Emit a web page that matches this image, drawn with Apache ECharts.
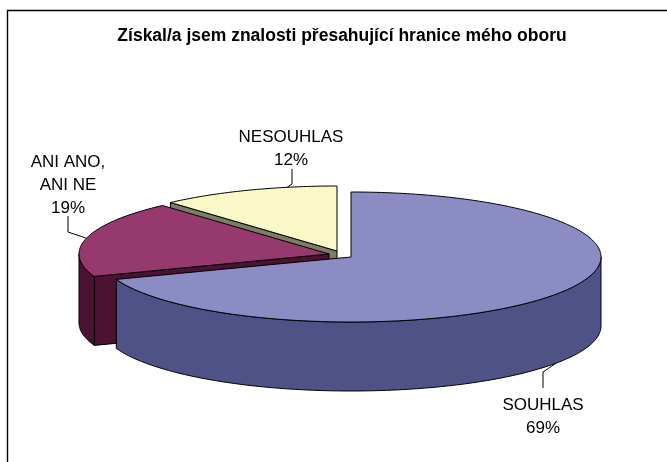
<!DOCTYPE html>
<html>

<head>
    <meta charset="utf-8">
    <title></title>
    <style>
        html, body { margin: 0; padding: 0; background: #fff; }
    </style>
</head>

<body>
    <div id="main" style="width: 667px;height:462px;"></div>
    <script src="https://cdn.jsdelivr.net/npm/echarts@6/dist/echarts.min.js" charset="utf-8"></script>
    <script>
    var titleText = 'Získal/a jsem znalosti přesahující hranice mého oboru';
    var categories = ['SOUHLAS', 'ANI ANO,\nANI NE', 'NESOUHLAS'];
    var values = [69.4, 19.0, 11.6];

    // colours per slice: top face, wall
    var topColors = ['#8a8cc3', '#96396e', '#fbf8c8'];
    var wallColors = ['#4f5287', '#4b1232', '#7d7c64'];
    // the pie is drawn as a flat ellipse, each slice pulled off on its own
    var centers = [[351, 257], [329, 254], [337, 251]];
    var radiusX = 250, radiusY = 65, depth = 69;
    // where the label text sits and how its leader runs
    var labelPos = [[543, 417], [68, 185], [291, 149]];
    var leaderElbow = [[543, 372], [68, 232], [292, 184]];
    var leaderStart = [[543, 388], [68, 216], [292, 169]];
    var leaderAngle = [null, null, 348.5];

    var total = values.reduce(function(a, b) { return a + b; }, 0);

    function rim(c, deg, dy) {
        var r = deg * Math.PI / 180;
        return [c[0] + radiusX * Math.sin(r), c[1] - radiusY * Math.cos(r) + (dy || 0)];
    }

    function arc(c, from, to, dy) {
        var pts = [];
        var step = to > from ? 1 : -1;
        for (var d = from; (to - d) * step > 0; d += step) {
            pts.push(rim(c, d, dy));
        }
        pts.push(rim(c, to, dy));
        return pts;
    }

    function face(points, color, z2) {
        return {
            type: 'polygon',
            z2: z2,
            shape: { points: points },
            style: { fill: color, stroke: '#000', lineWidth: 1, lineJoin: 'round' }
        };
    }

    function renderSlice(params, api) {
        var i = params.dataIndex;
        var start = 0;
        for (var k = 0; k < i; k++) {
            start += values[k];
        }
        var a0 = start / total * 360;
        var a1 = (start + api.value(0)) / total * 360;
        var c = centers[i];
        var z = (3 - i) * 10;
        var children = [];

        // radial wall on the side that faces the viewer
        if (i !== 0) {
            children.push(face([c, rim(c, a0), rim(c, a0, depth), [c[0], c[1] + depth]], wallColors[i], z));
        }
        // outer wall, only the front half of the ellipse shows
        var f0 = Math.max(a0, 90), f1 = Math.min(a1, 270);
        if (f1 > f0) {
            children.push(face(arc(c, f0, f1).concat(arc(c, f1, f0, depth)), wallColors[i], z + 1));
        }
        // top face
        children.push(face([c].concat(arc(c, a0, a1)), topColors[i], z + 2));

        // leader and label
        var mid = leaderAngle[i] !== null ? leaderAngle[i] : (a0 + a1) / 2;
        var end = rim(c, mid, mid > 90 && mid < 270 ? depth : 0);
        children.push({
            type: 'polyline',
            z2: 100,
            shape: { points: [leaderStart[i], leaderElbow[i], end] },
            style: { fill: null, stroke: '#000', lineWidth: 1 }
        });
        children.push({
            type: 'text',
            z2: 100,
            style: {
                x: labelPos[i][0],
                y: labelPos[i][1],
                text: categories[i] + '\n' + Math.round(api.value(0) / total * 100) + '%',
                align: 'center',
                verticalAlign: 'middle',
                fill: '#000',
                font: '17px "Liberation Sans", Arial, sans-serif',
                lineHeight: 23
            }
        });
        return { type: 'group', children: children };
    }

    var myChart = echarts.init(document.getElementById('main'));
    var option = {
        animation: false,
        backgroundColor: '#fff',
        title: {
            text: titleText,
            left: 337,
            top: 21,
            textAlign: 'center',
            textStyle: {
                fontFamily: '"Liberation Sans", Arial, sans-serif',
                fontSize: 17.5,
                fontWeight: 'bold',
                color: '#000',
                lineHeight: 20
            }
        },
        graphic: [{
            type: 'polyline',
            silent: true,
            z: -1,
            shape: { points: [[7.5, 462], [7.5, 10.5], [667, 10.5]] },
            style: { fill: null, stroke: '#000', lineWidth: 1.4 }
        }],
        series: [{
            type: 'custom',
            coordinateSystem: 'none',
            renderItem: renderSlice,
            data: values.map(function(v) { return [v]; })
        }]
    };
    myChart.setOption(option);
    </script>
</body>

</html>
